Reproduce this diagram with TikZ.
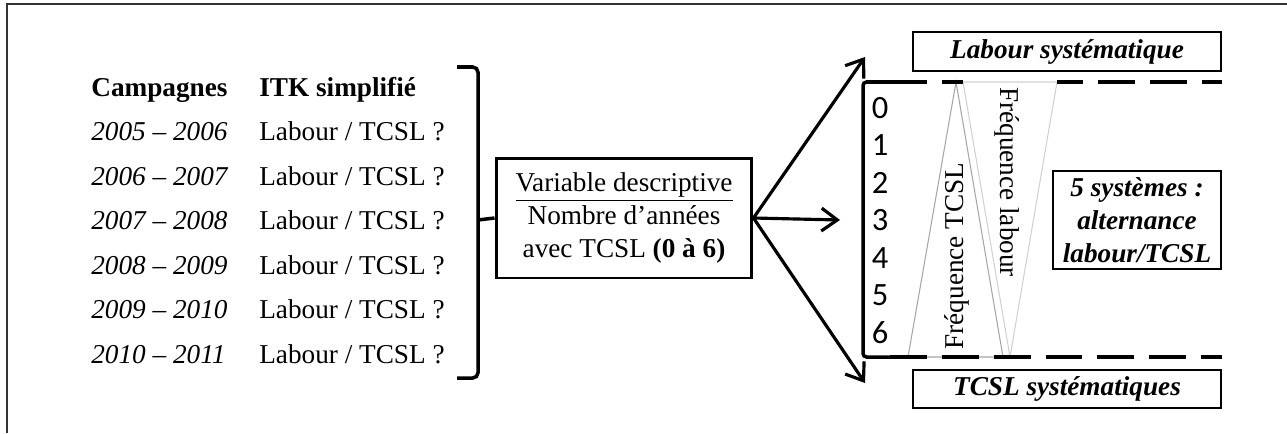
\documentclass[tikz,border=0pt]{standalone}
\usepackage{fontspec}
\setmainfont{Liberation Serif}
\newfontfamily\chiffres{Carlito}
\usetikzlibrary{arrows.meta}
\newcommand\taille{\fontsize{15.5}{18.7}\selectfont}

\begin{document}
\begin{tikzpicture}[x=0.02cm,y=-0.02cm,>={Straight Barb[length=9pt,width=13pt]},
  every node/.style={font=\taille,inner sep=0pt},
  cadre/.style={draw=black!80,line width=1.1pt},
  crochet/.style={line width=2pt},
  fleche/.style={->,line width=1.8pt},
  boite/.style={draw,line width=1pt,inner sep=2pt,align=center,font=\taille\bfseries\itshape},
  seuil/.style={line width=2.6pt,dash pattern=on 21pt off 8.5pt},
  freq/.style={draw=black!35,fill=white,line width=0.6pt}]

\useasboundingbox (0,0) rectangle (1287,433);
\draw[cadre] (7,433) |- (1287,4);

\node[anchor=base west,font=\taille\bfseries] (camp) at (91,96) {Campagnes};
\node[anchor=base west,font=\taille\bfseries] (itk) at (259,96) {ITK simplifié};
\foreach \annee [count=\i] in {2005,...,2010} {
  \pgfmathtruncatemacro\suiv{\annee+1}
  \node[anchor=base west,font=\taille\itshape] (an\i) at (91,96+44.5*\i) {\annee\ -- \suiv};
  \node[anchor=base west] (itk\i) at (259,96+44.5*\i) {Labour / TCSL ?};
}

\draw[crochet,rounded corners=3pt] (457,67) -- (478,67) -- (478,378) -- (457,378);
\coordinate (brk) at (478,220);

\node[draw,line width=1.7pt,minimum width=5.12cm,minimum height=2.4cm,align=center] (var) at (624,218)
  {\underline{Variable descriptive}\\Nombre d’années\\avec TCSL \textbf{(0 à 6)}};
\draw[crochet] (brk) -- (var.west);

\coordinate (haut) at (865,57);
\coordinate (milieu) at (840,220);
\coordinate (bas) at (865,383);
\draw[fleche] (var.east) -- (haut);
\draw[fleche] (var.east) -- (milieu);
\draw[fleche] (var.east) -- (bas);

\draw[crochet,rounded corners=2pt] (890,82) -- (863,82) -- (863,357) -- (890,357);
\foreach \n in {0,...,6}
  \node[font=\chiffres\fontsize{18.5}{20}\selectfont] (n\n) at (880,108+37.5*\n) {\n};

\draw[freq] (956,82) -- (1003,357) -- (908,357) -- cycle;
\draw[freq,draw=black!18] (963,82) -- (1057,82) -- (1010,357) -- cycle;
\draw[seuil] (890,82) -- (963,82);
\draw[seuil,dash phase=6.2pt] (1057,82) -- (1222,82);
\draw[seuil] (890,357) -- (1222,357);

\node[rotate=90] (ftcsl) at (957,256) {Fréquence TCSL};
\node[rotate=-90] (flab) at (1007,182) {Fréquence labour};

\node[boite,minimum width=6.16cm,minimum height=0.78cm] (lab) at (1067,51.5) {Labour systématique};
\node[boite,minimum width=6.16cm,minimum height=0.76cm] (tcsl) at (1067,389) {TCSL systématiques};
\node[boite,minimum width=3.36cm,minimum height=1.96cm] (alt) at (1137,220) {5 systèmes :\\alternance\\labour/TCSL};
\end{tikzpicture}
\end{document}
